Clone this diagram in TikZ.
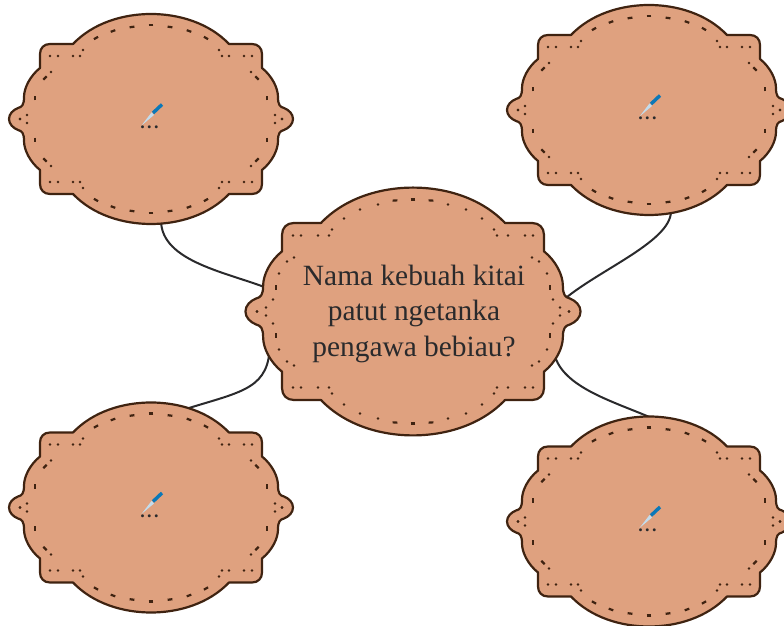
\documentclass[tikz,border=0pt]{standalone}
\usepackage{fontspec}
\setmainfont{Liberation Serif}
\usetikzlibrary{backgrounds}

\definecolor{badgefill}{HTML}{DFA17F}
\definecolor{badgeline}{HTML}{3F2311}
\definecolor{inktext}{HTML}{2A2A2C}
\definecolor{penblue}{HTML}{0B78B8}
\definecolor{penlight}{HTML}{C4DCEC}

% outline of one badge, in pixels round its centre
\def\badgepath{(-78,75) .. controls (-58,96) and (-28,105) .. (0,105)
    .. controls (28,105) and (58,96) .. (78,75) -- (101,75)
    .. controls (107,75) and (111,71) .. (111,65) -- (111,51)
    .. controls (121,43) and (127,31) .. (127,22)
    .. controls (127,14) and (129,12) .. (133,11)
    .. controls (138,9) and (142,5) .. (142,0)
    .. controls (142,-5) and (138,-9) .. (133,-11)
    .. controls (129,-12) and (127,-14) .. (127,-22)
    .. controls (127,-31) and (121,-43) .. (111,-51) -- (111,-65)
    .. controls (111,-71) and (107,-75) .. (101,-75) -- (78,-75)
    .. controls (58,-96) and (28,-105) .. (0,-105)
    .. controls (-28,-105) and (-58,-96) .. (-78,-75) -- (-101,-75)
    .. controls (-107,-75) and (-111,-71) .. (-111,-65) -- (-111,-51)
    .. controls (-121,-43) and (-127,-31) .. (-127,-22)
    .. controls (-127,-14) and (-129,-12) .. (-133,-11)
    .. controls (-138,-9) and (-142,-5) .. (-142,0)
    .. controls (-142,5) and (-138,9) .. (-133,11)
    .. controls (-129,12) and (-127,14) .. (-127,22)
    .. controls (-127,31) and (-121,43) .. (-111,51) -- (-111,65)
    .. controls (-111,71) and (-107,75) .. (-101,75) -- cycle}

% stitches of one quarter: x/y/angle for dashes, x/y for dots
\def\smalldashes{0/94/0,-19/92/8,-38/88/20,-55/81/30,-116/21/90,-106/41/45}
\def\smalldots{-68/69,-71/63,-78/63,-93/63,-101/63,-100/47,-131/0,-124/4}
\def\maindashes{0/112/0,-18/111/4,-137/24/90}
\def\maindots{-35/107,-53/102,-69/93,-81/82,-84/76,-95/76,-112/76,-120/76,
    -119/54,-126/50,-134/38,-140/12,-156/0,-147/4}

\newcommand{\badgestitch}[2]{
    \foreach \sx in {1,-1}
        \foreach \sy in {1,-1} {
            \begin{scope}[xscale=\sx,yscale=\sy]
                \foreach \x/\y/\a in #1
                    \draw[stitch] (\x,\y) ++(\a:-2.4) -- ++(\a:4.8);
                \foreach \x/\y in #2
                    \fill[badgeline] (\x,\y) circle (1.4pt);
            \end{scope}
        }
}

\begin{document}
\begin{tikzpicture}[x=1pt,y=1pt]
    \tikzstyle{badge}=[fill=badgefill,draw=badgeline,line width=2.2pt,line join=round]
    \tikzstyle{stitch}=[draw=badgeline,line width=2.2pt]
    \tikzstyle{link}=[draw=inktext,line width=2pt]
    \tikzstyle{small badge}=[minimum width=284pt,minimum height=210pt,inner sep=0pt]
    \tikzstyle{main badge}=[minimum width=336pt,minimum height=247pt,inner sep=0pt,
        align=center,text=inktext,font=\fontsize{29.4}{35.5}\selectfont]
    \tikzstyle{blank}=[inner sep=0pt,text=inktext,font=\bfseries\fontsize{18}{18}\selectfont]

    \clip[use as bounding box] (0,0) rectangle (784,626);

    % Draw the four small badges
    \foreach \name/\x/\y in {tl/151/507,tr/649/516,bl/151/118.5,br/649/104.5} {
        \node[small badge] (\name) at (\x,\y) {};
        \begin{scope}[shift={(\x,\y)}]
            \filldraw[badge] \badgepath;
            \badgestitch{\smalldashes}{\smalldots}
            % the pen above the dots
            \fill[penlight] (-9.5,-6.5) -- (0.5,6.5) -- (3,4) -- cycle;
            \draw[penblue,line width=3.4pt] (2,6) -- (11,14.5);
        \end{scope}
        \node[blank] (\name-dots) at (\x-1.5,\y-8.5) {.\hspace{2.5pt}.\hspace{2.5pt}.};
    }

    % Draw the middle badge
    \begin{scope}[shift={(413,314.5)}]
        \filldraw[badge,scale=1.18] \badgepath;
        \badgestitch{\maindashes}{\maindots}
    \end{scope}
    \node[main badge] (main) at (414,312.5) {Nama kebuah kitai\\patut ngetanka\\pengawa bebiau?};

    % Connect the small badges with the middle badge
    \begin{scope}[on background layer]
        \path[link] ([xshift=10pt,yshift=4pt]tl.south) .. controls +(0,-42) and +(-42,17) .. ([xshift=25pt,yshift=24pt]main.west);
        \path[link] ([xshift=22pt,yshift=4pt]tr.south) .. controls +(0,-32) and +(34,33) .. ([xshift=-25pt,yshift=8pt]main.east);
        \path[link] ([xshift=37pt,yshift=-6pt]bl.north) .. controls +(55,17) and +(0,-45) .. ([xshift=24pt,yshift=-30pt]main.west);
        \path[link] ([xshift=8pt,yshift=-4pt]br.north) .. controls +(-40,18) and +(8,-35) .. ([xshift=-28pt,yshift=-40pt]main.east);
    \end{scope}
\end{tikzpicture}
\end{document}
